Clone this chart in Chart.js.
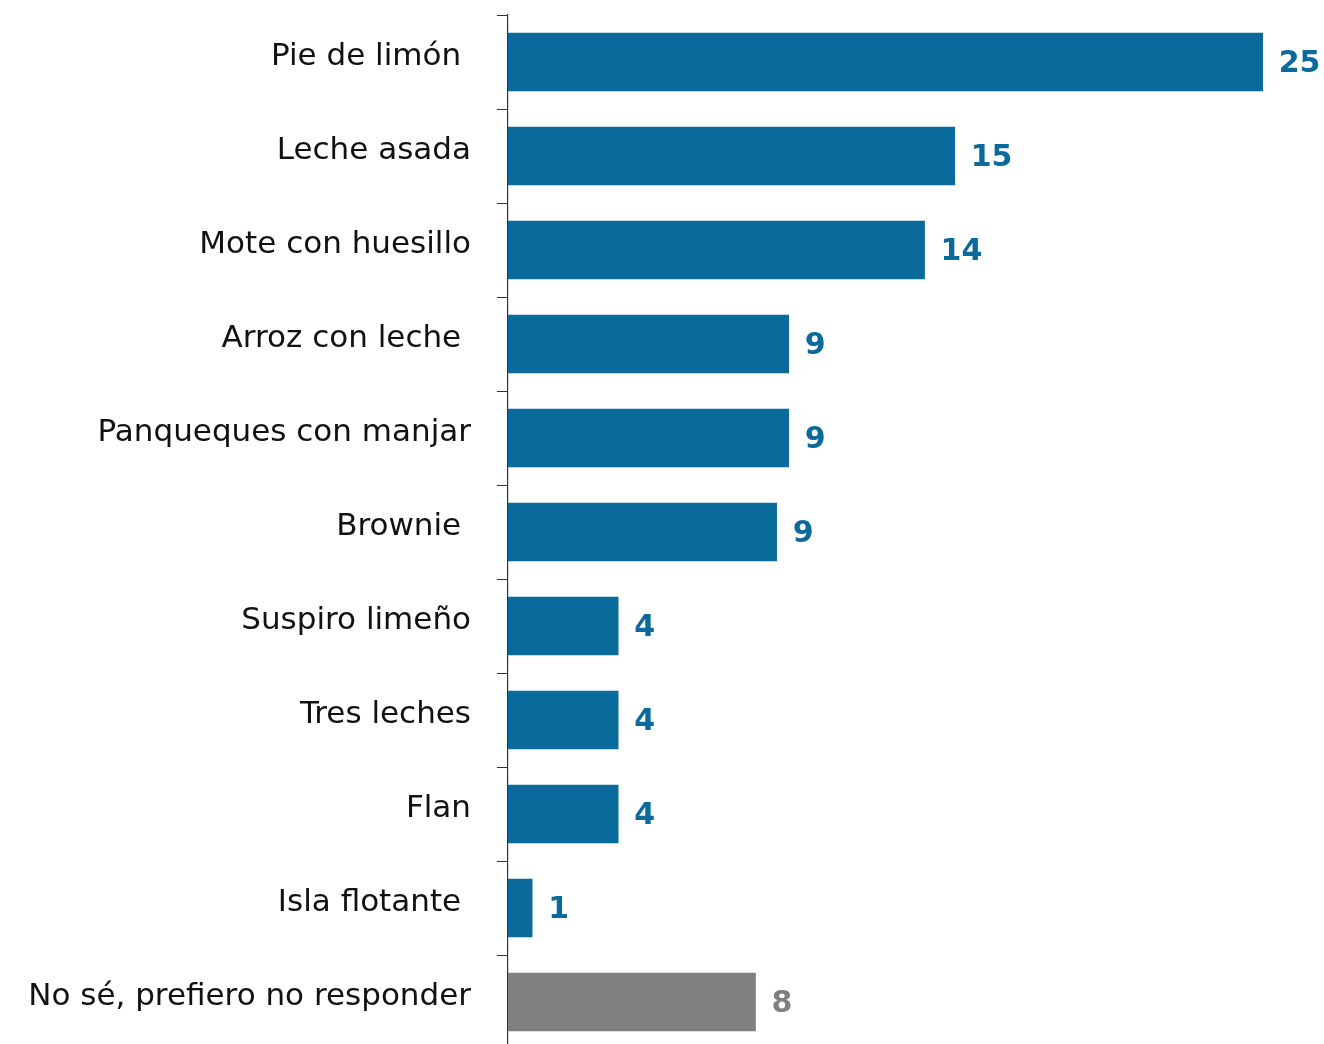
<!DOCTYPE html>
<html>
<head>
<meta charset="utf-8">
<style>
    html, body {
        margin: 0;
        padding: 0;
        background: #ffffff;
        overflow: hidden;
    }
    .chart-box {
        width: 1324px;
        height: 1060px;
    }
</style>
</head>
<body>
<div class="chart-box">
    <canvas id="postres" width="1324" height="1060"></canvas>
</div>

<script src="https://cdn.jsdelivr.net/npm/chart.js"></script>
<script>
    // datos
    const categories = [
        'Pie de limón ',
        'Leche asada',
        'Mote con huesillo',
        'Arroz con leche ',
        'Panqueques con manjar',
        'Brownie ',
        'Suspiro limeño',
        'Tres leches',
        'Flan',
        'Isla flotante ',
        'No sé, prefiero no responder'
    ];
    const values = [25, 14.8, 13.8, 9.3, 9.3, 8.9, 3.65, 3.65, 3.65, 0.8, 8.2];
    const valueLabels = ['25', '15', '14', '9', '9', '9', '4', '4', '4', '1', '8'];

    const BLUE = '#0b6a9c';
    const GREY = '#808080';
    const lastIdx = categories.length - 1;

    // etiquetas de valor al final de cada barra
    const valueLabelPlugin = {
        id: 'valueLabels',
        afterDatasetsDraw(chart) {
            const ctx = chart.ctx;
            const meta = chart.getDatasetMeta(0);
            ctx.save();
            ctx.font = 'bold 30px "DejaVu Sans", sans-serif';
            ctx.textAlign = 'left';
            ctx.textBaseline = 'middle';
            meta.data.forEach((bar, i) => {
                ctx.fillStyle = i === lastIdx ? GREY : BLUE;
                ctx.fillText(valueLabels[i], bar.x + 16, bar.y + 2);
            });
            ctx.restore();
        }
    };

    const ctx = document.getElementById('postres').getContext('2d');
    new Chart(ctx, {
        type: 'bar',
        data: {
            labels: categories,
            datasets: [{
                data: values,
                backgroundColor: categories.map((c, i) => i === lastIdx ? GREY : BLUE),
                borderWidth: 0,
                barThickness: 58
            }]
        },
        options: {
            indexAxis: 'y',
            responsive: false,
            animation: false,
            devicePixelRatio: 1,
            layout: {
                padding: { top: 15, right: 4, bottom: 11, left: 0 }
            },
            plugins: {
                legend: { display: false },
                tooltip: { enabled: false }
            },
            scales: {
                x: {
                    display: false,
                    min: 0,
                    max: 26.9
                },
                y: {
                    afterFit(scale) {
                        scale.width = 508;
                        scale.paddingTop = 0;
                        scale.paddingBottom = 0;
                    },
                    grid: {
                        drawOnChartArea: false,
                        drawTicks: true,
                        tickLength: 11,
                        color: '#333333',
                        lineWidth: 1
                    },
                    border: { display: true, color: '#333333', width: 1.2 },
                    ticks: {
                        color: '#111111',
                        padding: 26,
                        labelOffset: -5,
                        font: { family: '"DejaVu Sans", sans-serif', size: 31 }
                    }
                }
            }
        },
        plugins: [valueLabelPlugin]
    });
</script>
</body>
</html>
